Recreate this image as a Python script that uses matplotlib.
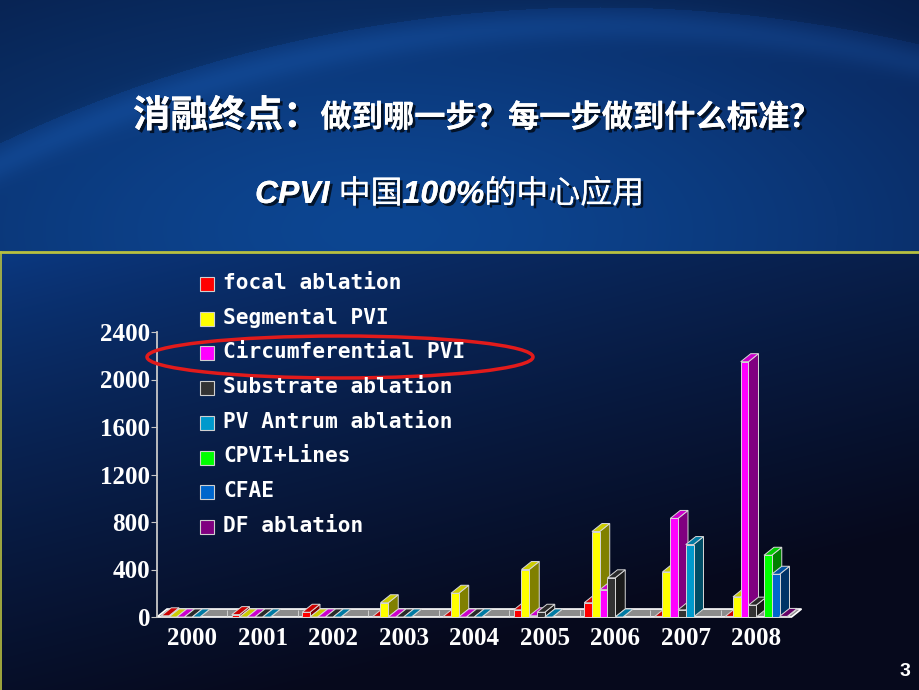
import numpy as np
import matplotlib
matplotlib.use("Agg")
import matplotlib.pyplot as plt
import matplotlib.patheffects as pe
from matplotlib.patches import Polygon, Rectangle, Ellipse

# ---- data ----
years = ["2000", "2001", "2002", "2003", "2004", "2005", "2006", "2007", "2008"]
series_names = ["focal ablation", "Segmental PVI", "Circumferential PVI",
                "Substrate ablation", "PV Antrum ablation", "CPVI+Lines",
                "CFAE", "DF ablation"]
focal = [10, 20, 40, 5, 5, 60, 120, 5, 5]
segmental = [0, 0, 0, 120, 200, 400, 720, 380, 170]
circumferential = [0, 0, 0, 0, 0, 10, 230, 830, 2150]
substrate = [0, 0, 0, 0, 0, 40, 330, 60, 100]
antrum = [0, 0, 0, 0, 0, 0, 0, 610, np.nan]
cpvi_lines = [np.nan] * 8 + [520]
cfae = [np.nan] * 8 + [360]
df_ablation = [np.nan] * 8 + [5]
yticks = [0, 400, 800, 1200, 1600, 2000, 2400]

series = [focal, segmental, circumferential, substrate, antrum,
          cpvi_lines, cfae, df_ablation]
colors = ["#ff0000", "#ffff00", "#ff00ff", "#333333",
          "#0099cc", "#00ff00", "#0066cc", "#800080"]

W, H = 920, 690
fig = plt.figure(figsize=(W / 100, H / 100), dpi=100)

# ---- background ----
yy, xx = np.mgrid[0:H, 0:W].astype(float)
bright = np.array([0x0d, 0x46, 0x92]) / 255
dark = np.array([0x09, 0x24, 0x58]) / 255
t = np.clip(((xx - 380) / 750) ** 2 + ((yy - 230) / 330) ** 2, 0, 1) ** 0.7
top = bright * (1 - t[..., None]) + dark * t[..., None]
d = np.sqrt((xx - 600) ** 2 + (yy - 1400) ** 2) - 1393
top = np.where((d > 0)[..., None], top * 0.85, top)
band = np.exp(-((d + 18) / 16) ** 2)
top = top + band[..., None] * np.array([0.02, 0.05, 0.08])
d2 = np.sqrt((xx + 200) ** 2 + (yy - 520) ** 2) - 330
top = np.where((d2 < 0)[..., None], top * 0.6, top)
c_top = np.array([0x0b, 0x3a, 0x84]) / 255
c_bot = np.array([0x06, 0x09, 0x1c]) / 255
tb = np.clip(0.45 * xx / W + 0.85 * (yy - 252) / 438, 0, 1) ** 0.75
bottom = c_top * (1 - tb[..., None]) + c_bot * tb[..., None]
img = np.where((yy < 252)[..., None], top, bottom)
img = np.clip(img, 0, 1)

bg = fig.add_axes([0, 0, 1, 1], zorder=0)
bg.imshow(img, extent=(0, W, H, 0), aspect="auto")
bg.plot([0, W], [252, 252], color="#b8c040", lw=2)
bg.plot([1, 1], [252, H], color="#b8c040", lw=1.2)
bg.set_xlim(0, W)
bg.set_ylim(H, 0)
bg.axis("off")

# ---- chart ----
x0, x1 = 157, 791.5
y0, y1 = 617, 332
ax = fig.add_axes([x0 / W, (H - y0) / H, (x1 - x0) / W, (y0 - y1) / H], zorder=1)
ax.set_facecolor("none")
ax.set_xlim(-0.5, len(years) - 0.5)
ax.set_ylim(0, 2400)

dx = 10 / ((x1 - x0) / len(years))
dy = 8 / ((y0 - y1) / 2400)
edge = "#d8d8d8"

floor = Polygon([(-0.5, 0), (len(years) - 0.5, 0),
                 (len(years) - 0.5 + dx, dy), (-0.5 + dx, dy)],
                closed=True, fc="#8c8c8c", ec="white", lw=1.2, clip_on=False)
ax.add_patch(floor)


def shade(c, f):
    r, g, b = matplotlib.colors.to_rgb(c)
    return (r * f, g * f, b * f)


w = 0.11
for j in range(len(years)):
    for i, vals in enumerate(series):
        v = vals[j]
        if np.isnan(v):
            continue
        xl = j - 0.44 + i * w
        c = colors[i]
        ax.add_patch(Polygon([(xl + w, 0), (xl + w + dx, dy), (xl + w + dx, v + dy), (xl + w, v)],
                             closed=True, fc=shade(c, 0.5), ec=edge, lw=0.7, clip_on=False))
        ax.add_patch(Polygon([(xl, v), (xl + w, v), (xl + w + dx, v + dy), (xl + dx, v + dy)],
                             closed=True, fc=shade(c, 0.8), ec=edge, lw=0.7, clip_on=False))
        if v > 0:
            ax.add_patch(Rectangle((xl, 0), w, v, fc=c, ec=edge, lw=0.7, clip_on=False))

for s in ["top", "right", "bottom"]:
    ax.spines[s].set_visible(False)
ax.spines["left"].set_color("#c8c8c8")
ax.spines["left"].set_linewidth(1.3)
ax.set_yticks(yticks)
ax.set_yticklabels([str(v) for v in yticks])
ax.tick_params(axis="y", colors="#c8c8c8", length=4, pad=1, labelcolor="white")
ax.set_xticks(range(len(years)))
ax.set_xticklabels(years)
ax.set_xticks(np.arange(0.5, len(years) - 1, 1.0), minor=True)
ax.tick_params(axis="x", which="major", length=0, pad=7, labelcolor="white")
ax.tick_params(axis="x", which="minor", direction="in", length=5, color="#dddddd")
for lab in ax.get_xticklabels() + ax.get_yticklabels():
    lab.set_fontfamily("Liberation Serif")
    lab.set_fontweight("bold")
    lab.set_fontsize(18)

# ---- overlay: titles, legend, ellipse ----
ov = fig.add_axes([0, 0, 1, 1], zorder=2)
ov.set_facecolor("none")
ov.set_xlim(0, W)
ov.set_ylim(H, 0)
ov.axis("off")

shadow = [pe.withSimplePatchShadow(offset=(2, -2), shadow_rgbFace="black", alpha=0.7), pe.Normal()]
renderer = fig.canvas.get_renderer()


def chain(x, y, pieces):
    for s, kw in pieces:
        txt = ov.text(x, y, s, color="white", va="baseline", ha="left",
                      path_effects=shadow, **kw)
        x += txt.get_window_extent(renderer).width


cjk = ["Noto Sans CJK SC", "DejaVu Sans"]
chain(133, 127, [("消融终点：", dict(family=cjk, weight="bold", fontsize=27)),
                 ("做到哪一步？每一步做到什么标准？", dict(family=cjk, weight="bold", fontsize=22.5))])
chain(255, 203, [("CPVI ", dict(family="Liberation Sans", weight="bold", style="italic", fontsize=23)),
                 ("中国", dict(family=cjk, fontsize=23)),
                 ("100%", dict(family="Liberation Sans", weight="bold", style="italic", fontsize=23)),
                 ("的中心应用", dict(family=cjk, fontsize=23))])

for i, name in enumerate(series_names):
    y = 283 + i * 34.7
    ov.add_patch(Rectangle((200, y - 6), 14, 14, fc=colors[i], ec="#d0d0d0", lw=0.8))
    ov.text(223, y, name, color="white", va="center", ha="left",
            family="DejaVu Sans Mono", weight="bold", fontsize=15.2)

ov.add_patch(Ellipse((340, 357), 386, 42, fill=False, ec="#e21b1b", lw=2.5))
ov.text(905, 672, "3", color="white", ha="center", va="center",
        family="Liberation Sans", weight="bold", fontsize=14)

fig.savefig("out.png", dpi=100)
